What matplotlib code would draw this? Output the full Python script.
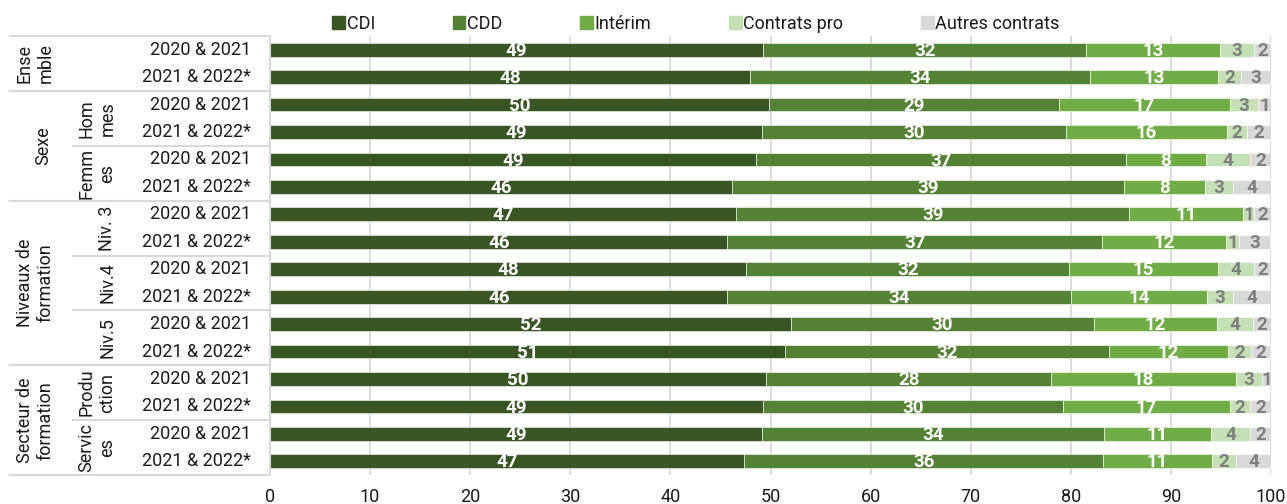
import matplotlib.pyplot as plt
from matplotlib.patches import Patch

plt.rcParams['font.family'] = ['Roboto', 'DejaVu Sans']

# Data (in %)
series = ["CDI", "CDD", "Intérim", "Contrats pro", "Autres contrats"]
periods = ["2020 & 2021", "2021 & 2022*"] * 8
cdi = [49.3, 48.0, 49.9, 49.2, 48.6, 46.2, 46.6, 45.7, 47.6, 45.7, 52.0, 51.4, 49.6, 49.3, 49.2, 47.4]
cdd = [32.2, 33.9, 28.9, 30.3, 36.9, 39.1, 39.2, 37.4, 32.2, 34.3, 30.3, 32.4, 28.4, 29.9, 34.1, 35.8]
interim = [13.4, 12.8, 17.1, 16.1, 8.0, 8.1, 11.4, 12.4, 14.9, 13.6, 12.3, 11.9, 18.5, 16.7, 10.7, 10.9]
pro = [3.4, 2.3, 2.8, 2.0, 4.4, 2.8, 1.1, 1.3, 3.6, 2.6, 3.6, 2.3, 2.6, 2.0, 3.9, 2.4]
autres = [1.7, 3.0, 1.3, 2.4, 2.2, 3.8, 1.7, 3.1, 1.7, 3.8, 1.8, 1.9, 1.0, 2.1, 2.1, 3.6]

groups = ["Ense\nmble", "Sexe", "Niveaux de\nformation", "Secteur de\nformation"]
group_rows = [(0, 1), (2, 5), (6, 11), (12, 15)]
subgroups = ["Hom\nmes", "Femm\nes", "Niv. 3", "Niv.4", "Niv.5", "Produ\nction", "Servic\nes"]
subgroup_rows = [(2, 3), (4, 5), (6, 7), (8, 9), (10, 11), (12, 13), (14, 15)]

colors = ["#375623", "#548235", "#70AD47", "#C5E0B4", "#D9D9D9"]
label_colors = ["white", "white", "white", "#7F7F7F", "#7F7F7F"]
line_col = "#D9D9D9"
txt_col = "#1a1a1a"

fig = plt.figure(figsize=(12.87, 5.04), dpi=100)
ax = fig.add_axes([270 / 1287, 29 / 504, 1001 / 1287, 439 / 504])

rows = list(range(len(periods)))
left = [0.0] * len(rows)
for name, vals, col, lcol in zip(series, [cdi, cdd, interim, pro, autres], colors, label_colors):
    bars = ax.barh(rows, vals, left=left, height=0.5, color=col, edgecolor="white",
                   linewidth=0.4, label=name, zorder=2)
    for b, v in zip(bars, vals):
        ax.text(b.get_x() + b.get_width() / 2, b.get_y() + b.get_height() / 2 + 0.04,
                f"{v:.0f}", ha="center", va="center", color=lcol,
                fontsize=13.5, fontweight="bold", zorder=3)
    left = [l + v for l, v in zip(left, vals)]

ax.set_xlim(0, 100)
ax.set_ylim(15.5, -0.5)
ax.set_xticks(range(0, 101, 10))
ax.tick_params(axis="x", length=0, pad=9, labelsize=13, labelcolor=txt_col)
ax.set_yticks([])
ax.grid(axis="x", color=line_col, linewidth=1.3, zorder=0)
ax.set_axisbelow(True)
for s in ["top", "right", "bottom"]:
    ax.spines[s].set_visible(False)
ax.spines["left"].set_color(line_col)
ax.spines["left"].set_linewidth(1.5)

# left-hand table of categories
tr = ax.get_yaxis_transform()


def px(x):
    return (x - 270) / 1001


for r, p in zip(rows, periods):
    ax.text(px(251), r, p, transform=tr, ha="right", va="center", fontsize=13, color=txt_col)

for name, (a, b) in zip(groups, group_rows):
    xx = 43 if "\n" not in name else 35
    ax.text(px(xx), (a + b) / 2, name, transform=tr, rotation=90, ha="center", va="center",
            multialignment="center", fontsize=13, color=txt_col)

for name, (a, b) in zip(subgroups, subgroup_rows):
    xx = 107 if "\n" not in name else 97
    ax.text(px(xx), (a + b) / 2, name, transform=tr, rotation=90, ha="center", va="center",
            multialignment="center", fontsize=13, color=txt_col)

for y in [-0.5, 1.5, 5.5, 11.5, 15.5]:
    ax.plot([px(10), 0], [y, y], transform=tr, color=line_col, lw=1.5, clip_on=False)
for y in [3.5, 7.5, 9.5, 13.5]:
    ax.plot([px(73), 0], [y, y], transform=tr, color=line_col, lw=1.5, clip_on=False)

handles = [Patch(color=c) for c in colors]
fig.legend(handles, series, loc="center", bbox_to_anchor=(696 / 1287, 1 - 24 / 504), ncol=5,
           frameon=False, fontsize=13, handlelength=0.7, handleheight=0.7,
           handletextpad=0.1, columnspacing=4.3, labelcolor=txt_col)

fig.savefig("out.png", dpi=100)
